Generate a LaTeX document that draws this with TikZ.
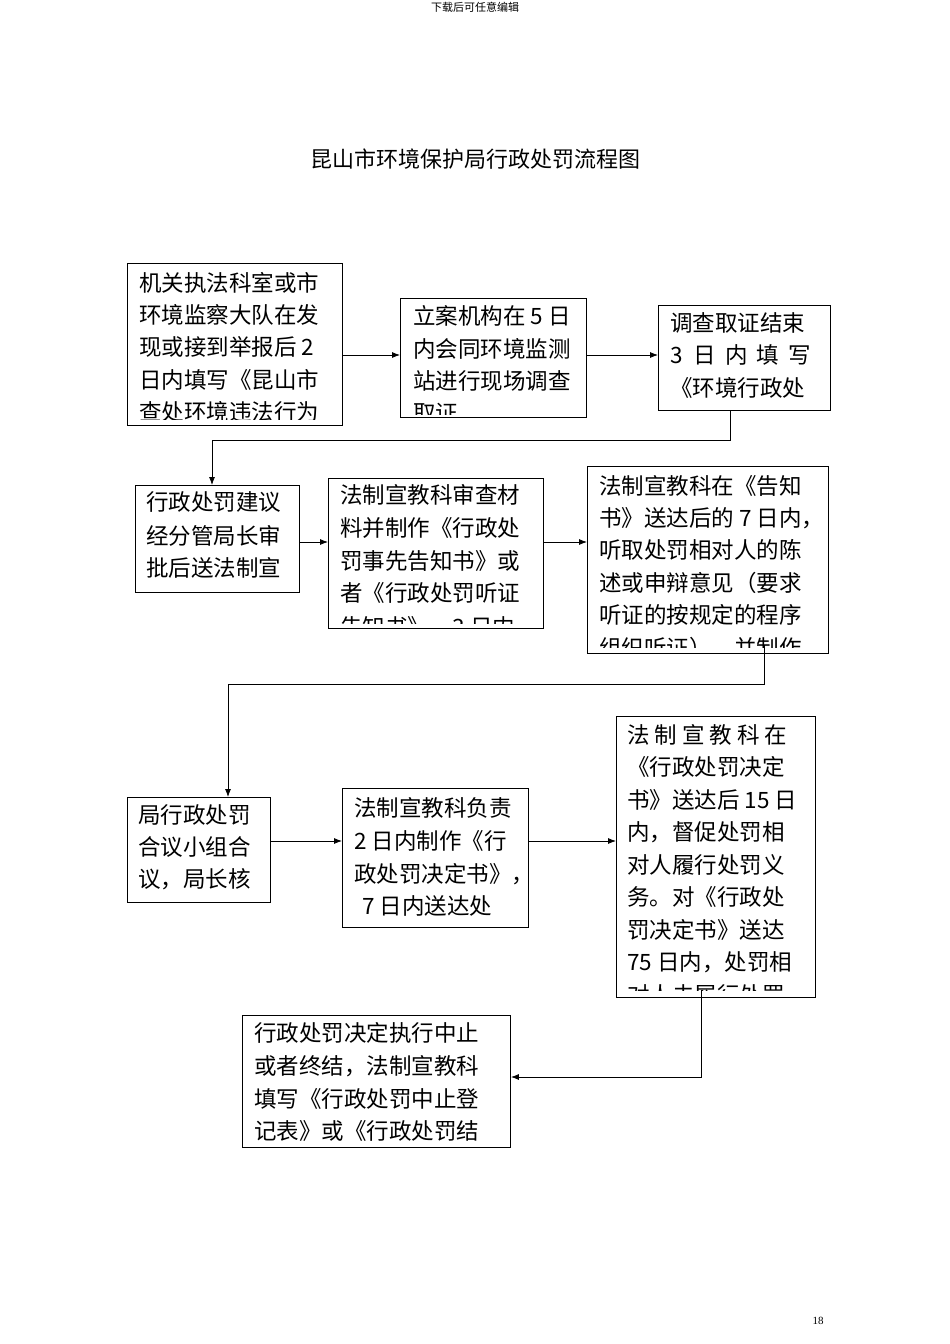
\documentclass[tikz,border=0pt]{standalone}
\usepackage{fontspec}
\setmainfont{Liberation Serif}
\newfontfamily\cjk{Noto Sans CJK SC}
\begin{document}
\begin{tikzpicture}[x=1pt,y=-1pt,
  box/.style={draw,line width=0.9pt,inner sep=0,anchor=north west},
  ln/.style={anchor=west,inner sep=0,font=\cjk\fontsize{22.5}{24}\selectfont},
  arr/.style={-{Latex[length=8pt,width=6pt]},line width=0.8pt}]
\usetikzlibrary{arrows.meta}
\useasboundingbox (0,0) rectangle (950,1344);
\fill[white] (0,0) rectangle (950,1344);
\node[font=\cjk\fontsize{11}{12}\selectfont] (hd) at (475,7) {下载后可任意编辑};
\node[font=\cjk\fontsize{22}{24}\selectfont] (title) at (475,159) {昆山市环境保护局行政处罚流程图};
\node[font=\fontsize{11}{12}\selectfont] (pg) at (818,1321) {18};
\newcommand\bx[5]{\node[box,minimum width=#4-#2,minimum height=#5-#3] (#1) at (#2,#3) {};}
\bx{A}{127}{263}{342}{425}
\bx{B}{400}{298}{586}{417}
\bx{C}{658}{305}{830}{410}
\bx{D}{135}{485}{299}{592}
\bx{E}{328}{478}{543}{628}
\bx{F}{587}{466}{828}{653}
\bx{G}{127}{797}{270}{902}
\bx{H}{342}{788}{528}{927}
\bx{I}{616}{716}{815}{997}
\bx{J}{242}{1015}{510}{1147}
\newcommand\tl[3]{\node[ln] at (#1,#2) {#3};}
\begin{scope}\clip (128,264) rectangle (341,419);
\tl{139}{283}{机关执法科室或市}\tl{139}{315}{环境监察大队在发}\tl{139}{347}{现或接到举报后 2}\tl{139}{380}{日内填写《昆山市}\tl{139}{412}{查处环境违法行为}
\end{scope}
\begin{scope}\clip (401,299) rectangle (585,414);
\tl{413}{316}{立案机构在 5 日}\tl{413}{349}{内会同环境监测}\tl{413}{381}{站进行现场调查}\tl{413}{413}{取证}
\end{scope}
\begin{scope}\clip (659,306) rectangle (829,409);
\tl{670}{323}{调查取证结束}\tl{670}{355}{3\hspace{11pt}日\hspace{9pt}内\hspace{9pt}填\hspace{9pt}写}\tl{670}{388}{《环境行政处}
\end{scope}
\begin{scope}\clip (136,486) rectangle (298,591);
\tl{146}{502}{行政处罚建议}\tl{146}{536}{经分管局长审}\tl{146}{568}{批后送法制宣}
\end{scope}
\begin{scope}\clip (329,479) rectangle (542,623);
\tl{340}{495}{法制宣教科审查材}\tl{340}{528}{料并制作《行政处}\tl{340}{561}{罚事先告知书》或}\tl{340}{593}{者《行政处罚听证}\tl{340}{627}{告知书》，3 日内}
\end{scope}
\begin{scope}\clip (588,467) rectangle (827,647);
\tl{599}{486}{法制宣教科在《告知}\tl{599}{518}{书》送达后的 7 日内，}\tl{599}{550}{听取处罚相对人的陈}\tl{599}{583}{述或申辩意见（要求}\tl{599}{615}{听证的按规定的程序}\tl{599}{648}{组织听证），并制作}
\end{scope}
\begin{scope}\clip (128,798) rectangle (269,901);
\tl{138}{815}{局行政处罚}\tl{138}{847}{合议小组合}\tl{138}{879}{议，局长核}
\end{scope}
\begin{scope}\clip (343,789) rectangle (527,926);
\tl{354}{808}{法制宣教科负责}\tl{354}{841}{2 日内制作《行}\tl{354}{874}{政处罚决定书》，}\tl{362}{906}{7 日内送达处}
\end{scope}
\begin{scope}\clip (617,717) rectangle (814,990);
\tl{627}{735}{法\hspace{5pt}制\hspace{5pt}宣\hspace{5pt}教\hspace{5pt}科\hspace{5pt}在}\tl{627}{767}{《行政处罚决定}\tl{627}{800}{书》送达后 15 日}\tl{627}{832}{内，督促处罚相}\tl{627}{865}{对人履行处罚义}\tl{627}{897}{务。对《行政处}\tl{627}{930}{罚决定书》送达}\tl{627}{962}{75 日内，处罚相}\tl{627}{995}{对人未履行处罚}
\end{scope}
\begin{scope}\clip (243,1016) rectangle (509,1146);
\tl{254}{1033}{行政处罚决定执行中止}\tl{254}{1066}{或者终结，法制宣教科}\tl{254}{1099}{填写《行政处罚中止登}\tl{254}{1131}{记表》或《行政处罚结}
\end{scope}
\draw[arr] (A.east |- 0,355) -- (B.west |- 0,355);
\draw[arr] (B.east |- 0,355) -- (C.west |- 0,355);
\draw[arr] (C.south -| 730,0) -- (730,440) -- (212,440) -- (D.north -| 212,0);
\draw[arr] (D.east |- 0,542) -- (E.west |- 0,542);
\draw[arr] (E.east |- 0,542) -- (F.west |- 0,542);
\draw[arr] (764,645) -- (764,684) -- (228,684) -- (G.north -| 228,0);
\draw[arr] (G.east |- 0,841) -- (H.west |- 0,841);
\draw[arr] (H.east |- 0,841) -- (I.west |- 0,841);
\draw[arr] (701,990) -- (701,1077) -- (J.east |- 0,1077);
\end{tikzpicture}
\end{document}
